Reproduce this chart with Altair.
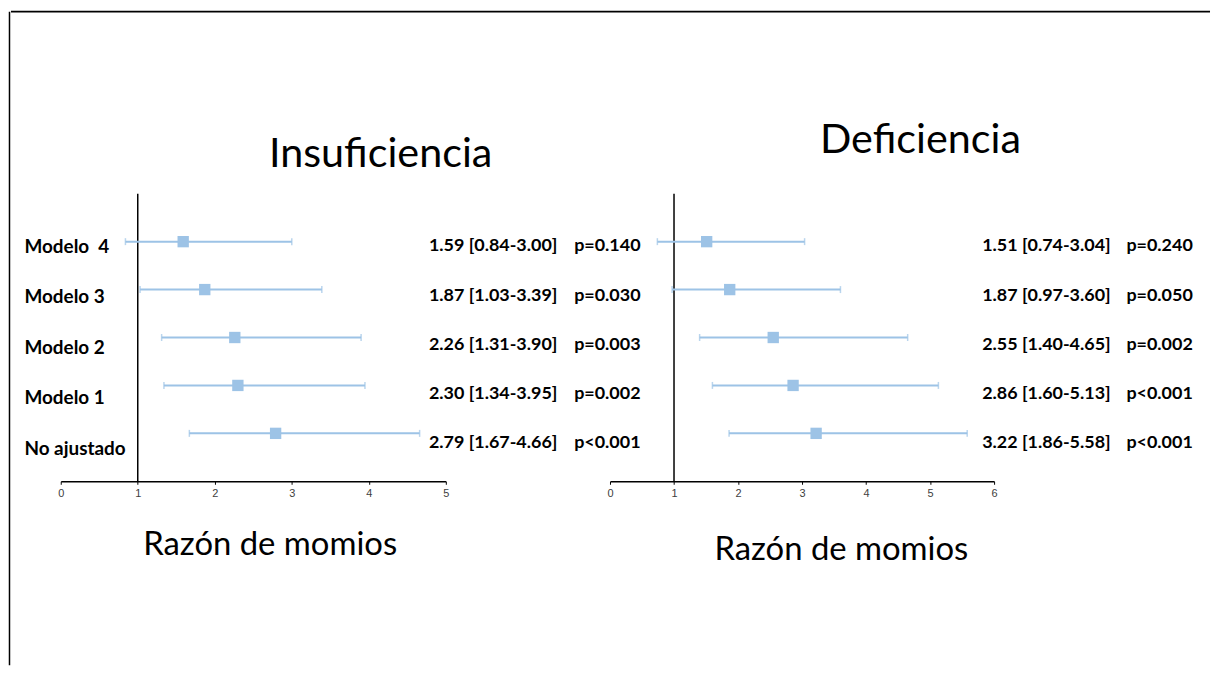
import altair as alt
import pandas as pd

# ---------------- data ----------------
models = ["Modelo \u00a04", "Modelo 3", "Modelo 2", "Modelo 1", "No ajustado"]

ins_or = [1.59, 1.87, 2.26, 2.30, 2.79]
ins_lo = [0.84, 1.03, 1.31, 1.34, 1.67]
ins_hi = [3.00, 3.39, 3.90, 3.95, 4.66]
ins_p = ["p=0.140", "p=0.030", "p=0.003", "p=0.002", "p<0.001"]

def_or = [1.51, 1.87, 2.55, 2.86, 3.22]
def_lo = [0.74, 0.97, 1.40, 1.60, 1.86]
def_hi = [3.04, 3.60, 4.65, 5.13, 5.58]
def_p = ["p=0.240", "p=0.050", "p=0.002", "p<0.001", "p<0.001"]

ticks_ins = [0, 1, 2, 3, 4, 5]
ticks_def = [0, 1, 2, 3, 4, 5, 6]
ref_line = [1]
text_cols = ["ic", "p"]

BLUE = "#9DC3E6"
TXT = "Lato"


def panel(or_, lo, hi, pv, ticks, title, width, title_dx, title_dy,
          ax_title_x, ax_title_y, text_range, text_y_range, label_range, with_frame):
    df = pd.DataFrame({"modelo": models, "or": or_, "lo": lo, "hi": hi})
    ci = [f"{o:.2f} [{l:.2f}-{h:.2f}]" for o, l, h in zip(or_, lo, hi)]
    tdf = pd.DataFrame({
        "modelo": models + models,
        "col": [text_cols[0]] * len(models) + [text_cols[1]] * len(models),
        "txt": ci + list(pv),
    })

    xscale = alt.Scale(domain=[ticks[0], ticks[-1]], nice=False, zero=False)
    xaxis = alt.Axis(
        values=ticks, format="d", grid=False, labelFlush=False,
        title="Razón de momios", titleFont=TXT, titleFontSize=33,
        titleFontWeight="normal", titleColor="black",
        titleX=ax_title_x, titleY=ax_title_y, titleBaseline="alphabetic",
        labelFont="Liberation Sans", labelFontSize=11, labelColor="#404040",
        labelPadding=3, domainColor="black", domainWidth=1.5,
        tickColor="black", tickSize=3, tickWidth=1,
    )
    Y = alt.Y("modelo:N", sort=models,
              scale=alt.Scale(type="point", domain=models, padding=1), axis=None)

    base = alt.Chart(df)
    ref = alt.Chart(pd.DataFrame({"ref": ref_line})).mark_rule(
        color="black", strokeWidth=1.5).encode(
        x=alt.X("ref:Q", scale=xscale, axis=xaxis))
    err = base.mark_rule(color=BLUE, strokeWidth=2).encode(
        x=alt.X("lo:Q", scale=xscale, axis=xaxis), x2="hi:Q", y=Y)
    cap_lo = base.mark_tick(color=BLUE, thickness=1.5, size=7).encode(
        x=alt.X("lo:Q", scale=xscale, axis=xaxis), y=Y)
    cap_hi = base.mark_tick(color=BLUE, thickness=1.5, size=7).encode(
        x=alt.X("hi:Q", scale=xscale, axis=xaxis), y=Y)
    sq = base.mark_square(color=BLUE, size=130, opacity=1).encode(
        x=alt.X("or:Q", scale=xscale, axis=xaxis), y=Y)
    inner = alt.layer(ref, err, cap_lo, cap_hi, sq)

    text = alt.Chart(tdf).mark_text(
        align="left", baseline="middle", font=TXT, fontSize=18,
        fontWeight="bold", color="black").encode(
        x=alt.X("col:N", scale=alt.Scale(type="point", domain=text_cols,
                                         range=text_range, padding=0), axis=None),
        y=alt.Y("modelo:N", sort=models,
                scale=alt.Scale(type="point", domain=models,
                                range=text_y_range, padding=0), axis=None),
        text="txt:N",
    )

    layers = []
    if with_frame:
        # page frame (top and left edges), drawn relative to this view
        fdf = pd.DataFrame({"k": [0]})
        layers.append(alt.Chart(fdf).mark_rule(color="black", strokeWidth=2).encode(
            x=alt.value(-50), x2=alt.value(1155), y=alt.value(-183)))
        layers.append(alt.Chart(fdf).mark_rule(color="black", strokeWidth=1.5).encode(
            x=alt.value(-51.5), y=alt.value(-183), y2=alt.value(474)))
    layers += [inner, text]

    if label_range is not None:
        yaxis = alt.Axis(orient="left", labelAlign="left", labelPadding=37,
                         ticks=False, tickSize=0, domain=False, title=None,
                         labelFont=TXT, labelFontSize=19, labelFontWeight="bold",
                         labelColor="black", labelBaseline="middle")
        lab = alt.Chart(df).mark_point(opacity=0, size=1).encode(
            y=alt.Y("modelo:N", sort=models,
                    scale=alt.Scale(type="point", domain=models,
                                    range=label_range, padding=0), axis=yaxis))
        layers.append(lab)

    return alt.layer(*layers).resolve_scale(x="independent", y="independent").properties(
        width=width, height=289,
        title=alt.TitleParams(text=title, font=TXT, fontSize=41.5, fontWeight="normal",
                              color="black", anchor="middle", frame="group",
                              dx=title_dx, dy=title_dy, offset=0, baseline="alphabetic"),
    )


left = panel(ins_or, ins_lo, ins_hi, ins_p, ticks_ins, "Insuficiencia", 387,
             128, 198.5, 210, 74, [370, 516], [53, 251], [53, 256], True)
right = panel(def_or, def_lo, def_hi, def_p, ticks_def, "Deficiencia", 386,
              119, 1.5, 232, 79, [374, 519], [53, 251], None, False)

chart = alt.hconcat(left, right, spacing=165, bounds="flush").properties(
    padding=0).configure_view(stroke="transparent")

chart.save("out.html", embed_options={"renderer": "svg", "actions": False})
